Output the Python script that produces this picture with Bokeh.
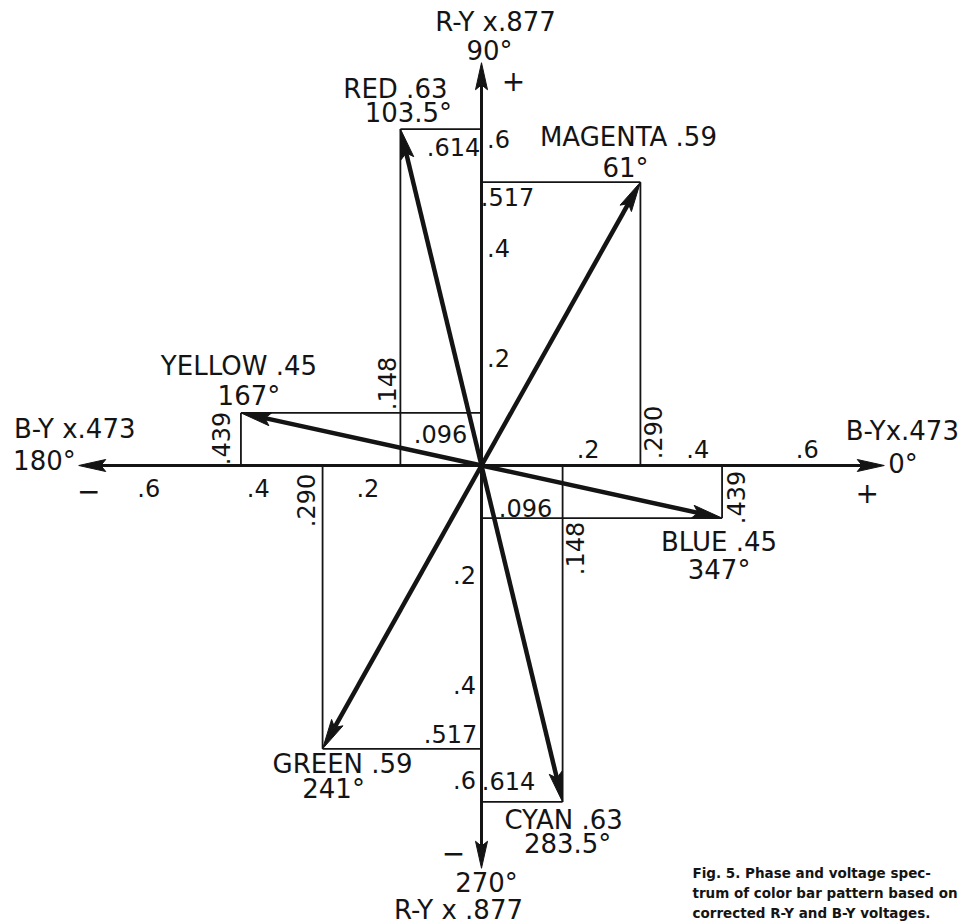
import numpy as np
from bokeh.plotting import figure
from bokeh.models import Label, Range1d
from bokeh.embed import file_html
from bokeh.resources import INLINE

# ---------------- data ----------------
color_names = ["RED", "MAGENTA", "YELLOW", "BLUE", "CYAN", "GREEN"]
amplitude_labels = [".63", ".59", ".45", ".45", ".63", ".59"]
phase_labels = ["103.5°", "61°", "167°", "347°", "283.5°", "241°"]
b_y = [-0.148, 0.290, -0.439, 0.439, 0.148, -0.290]     # horizontal component (B-Y x .473)
r_y = [0.614, 0.517, 0.096, -0.096, -0.614, -0.517]     # vertical component (R-Y x .877)
b_y_labels = [".148", ".290", ".439", ".439", ".148", ".290"]
r_y_labels = [".614", ".517", ".096", ".096", ".614", ".517"]
axis_extent = 0.735
tick_values = [0.2, 0.4, 0.6]
tick_labels = [".2", ".4", ".6"]
caption_lines = ["Fig. 5. Phase and voltage spec-",
                 "trum of color bar pattern based on",
                 "corrected R-Y and B-Y voltages."]

# ---------------- layout ----------------
S = 548.0            # px per unit, same on both axes
W, H = 965, 924
OX, OY = 481, 465    # origin position within the canvas (px)
INK = "#141414"
FONT = "DejaVu Sans"

p = figure(width=W, height=H, output_backend="svg", toolbar_location=None,
           x_axis_location=None, y_axis_location=None, min_border=0,
           x_range=Range1d(-OX / S, (W - OX) / S), y_range=Range1d(-(H - OY) / S, OY / S),
           background_fill_color="white", border_fill_color="white",
           outline_line_color=None)
p.xgrid.visible = False
p.ygrid.visible = False


def head(tip_x, tip_y, ux, uy, length, half_w):
    """arrowhead polygon (data units), drawn through the common px scale"""
    bx, by = tip_x - ux * length / S, tip_y - uy * length / S
    nx, ny = -uy, ux
    mx, my = tip_x - ux * 0.82 * length / S, tip_y - uy * 0.82 * length / S
    xs = [tip_x, bx + nx * half_w / S, mx, bx - nx * half_w / S]
    ys = [tip_y, by + ny * half_w / S, my, by - ny * half_w / S]
    return xs, ys, mx, my


def txt(ax, ay, dx, dy, s, size=24, angle=0.0, align="center",
        baseline="middle", style="normal", font=FONT):
    p.add_layout(Label(x=ax + dx / S, y=ay - dy / S, text=s,
                       text_font_size=f"{size}px", angle=angle,
                       text_align=align, text_baseline=baseline,
                       text_font=font, text_font_style=style,
                       text_color=INK))


# ---------------- axes with arrowheads ----------------
head_xs, head_ys = [], []
for ux, uy in [(1, 0), (-1, 0), (0, 1), (0, -1)]:
    xs, ys, mx, my = head(ux * axis_extent, uy * axis_extent, ux, uy, 27, 6)
    head_xs.append(xs)
    head_ys.append(ys)
    p.line([0, mx], [0, my], line_color=INK, line_width=3)

# ---------------- projection lines ----------------
for bx, ry in zip(b_y, r_y):
    p.line([0, bx], [ry, ry], line_color=INK, line_width=1.8)
    p.line([bx, bx], [0, ry], line_color=INK, line_width=1.8)

# ---------------- vectors ----------------
for bx, ry in zip(b_y, r_y):
    n = np.hypot(bx, ry)
    ux, uy = bx / n, ry / n
    xs, ys, mx, my = head(bx, ry, ux, uy, 30, 6.5)
    head_xs.append(xs)
    head_ys.append(ys)
    p.line([0, mx], [0, my], line_color=INK, line_width=4.5)

p.patches(head_xs, head_ys, fill_color=INK, line_color=INK, line_width=1)

# ---------------- vector labels ----------------
name_off = [(-5, -40), (-12, -45), (-2, -47), (-3, 24), (1, 18), (20, 15)]
phase_off = [(8, -16), (-15, -14), (8, -17), (-3, 52), (5, 42), (11, 40)]
for i, nm in enumerate(color_names):
    txt(b_y[i], r_y[i], *name_off[i], f"{nm} {amplitude_labels[i]}", size=26)
    txt(b_y[i], r_y[i], *phase_off[i], phase_labels[i], size=26)

# ---------------- component value labels ----------------
# R-Y components (horizontal text near the vertical axis)
ry_off = [(-28, 18), (26, 15), (-41, 21), (44, -10), (27, -21), (-31, -15)]
for i in range(6):
    txt(0, r_y[i], *ry_off[i], r_y_labels[i], size=24)
# B-Y components (rotated text beside the projection verticals)
by_off = [(-13, -82), (13, -33), (-20, -27), (14, 32), (12, 83), (-17, 35)]
for i in range(6):
    txt(b_y[i], 0, *by_off[i], b_y_labels[i], size=24, angle=np.pi / 2)

# ---------------- axis tick labels ----------------
for v, t in zip(tick_values, tick_labels):
    txt(v, 0, -3, -17, t, size=24)            # +B-Y
    txt(-v, 0, -4, 22, t, size=24)            # -B-Y
    txt(0, v, 17, 2, t, size=24)              # +R-Y
    txt(0, -v, -17, -14 if v > 0.5 else 0, t, size=24)   # -R-Y

# ---------------- axis titles ----------------
E = axis_extent
txt(0, E, 14, -41, "R-Y x.877", size=26)
txt(0, E, 8, -12, "90°", size=26)
txt(0, E, 32, 18, "+", size=28)

txt(E, 0, 18, -35, "B-Yx.473", size=26)
txt(E, 0, 4, -2, "0°", size=26, align="left")
txt(E, 0, -17, 27, "+", size=28)

txt(-E, 0, -4, -37, "B-Y x.473", size=26)
txt(-E, 0, -3, -5, "180°", size=26, align="right")
txt(-E, 0, 10, 25, "−", size=28)

txt(0, -E, -28, -16, "−", size=28)
txt(0, -E, 5, 15, "270°", size=26)
txt(0, -E, -23, 42, "R-Y x .877", size=26)

# ---------------- caption ----------------
for k, line in enumerate(caption_lines):
    p.add_layout(Label(x=(692 - OX) / S, y=(OY - (872 + 20 * k)) / S,
                       text=line, text_font_size="13.5px", text_font=FONT,
                       text_font_style="bold", text_color=INK,
                       text_align="left", text_baseline="middle"))

open("out.html", "w").write(file_html(p, INLINE))
